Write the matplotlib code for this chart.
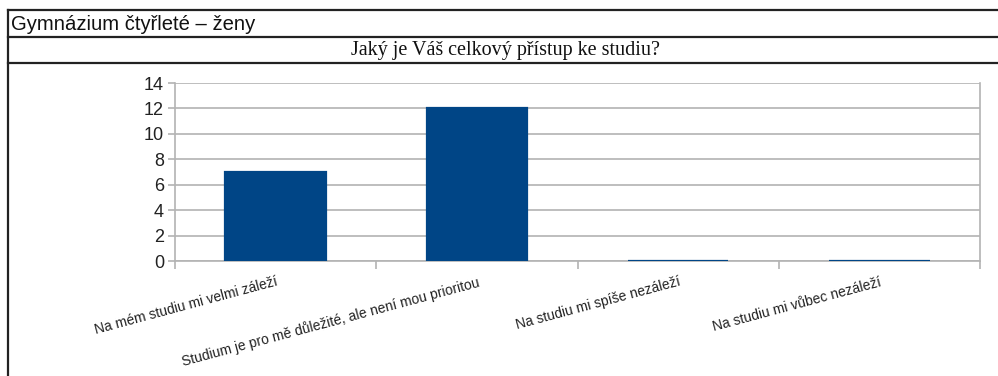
import numpy as np
import matplotlib.pyplot as plt
from matplotlib.lines import Line2D

header = 'Gymnázium čtyřleté – ženy'
question = 'Jaký je Váš celkový přístup ke studiu?'
categories = ['Na mém studiu mi velmi záleží',
              'Studium je pro mě důležité, ale není mou prioritou',
              'Na studiu mi spíše nezáleží',
              'Na studiu mi vůbec nezáleží']
counts = [7, 12, 0, 0]

W, H = 998, 376
fig = plt.figure(figsize=(W / 100, H / 100), dpi=100)
fig.patch.set_facecolor('white')

# table-like frame around header and question
def fx(px):
    return px / W

def fy(py):
    return 1 - py / H

for py in (10, 37, 63):
    fig.add_artist(Line2D([fx(8), 1.0], [fy(py), fy(py)], color='#222222', lw=1.6))
fig.add_artist(Line2D([fx(8), fx(8)], [fy(10), 0.0], color='#222222', lw=1.6))

fig.text(fx(11), fy(24), header, family='Liberation Sans', fontsize=14.6,
         ha='left', va='center', color='#111111')
fig.text(fx(506), fy(50), question, family='Liberation Serif', fontsize=14.5,
         ha='center', va='center', color='#111111')

ax = fig.add_axes([fx(175), fy(261), fx(980) - fx(175), (261 - 83) / H])
x = np.arange(len(categories))
ax.bar(x, counts, width=0.5, color='#004586', edgecolor='#004586', lw=1.6, zorder=3)

ax.set_xlim(-0.5, len(categories) - 0.5)
ax.set_ylim(0, 14)
ax.set_yticks(np.arange(0, 15, 2))
ax.tick_params(axis='y', labelsize=13, length=5, color='#b3b3b3', width=1.2,
               labelcolor='#222222', pad=3)
for lab in ax.get_yticklabels():
    lab.set_family('Liberation Sans')
ax.yaxis.grid(True, color='#b3b3b3', lw=1.2, zorder=0)

ax.set_xticks(x)
ax.set_xticklabels(categories, rotation=15, ha='right', va='top',
                   rotation_mode='anchor', family='Liberation Sans', fontsize=10,
                   color='#222222')
ax.tick_params(axis='x', which='major', length=0, pad=10)
ax.set_xticks(np.arange(-0.5, len(categories)), minor=True)
ax.tick_params(axis='x', which='minor', length=6, color='#b3b3b3', width=1.2)

ax.spines['top'].set_visible(False)
for side in ('left', 'bottom', 'right'):
    ax.spines[side].set_color('#b3b3b3')
    ax.spines[side].set_linewidth(1.2)

fig.savefig('out.png', dpi=100)
